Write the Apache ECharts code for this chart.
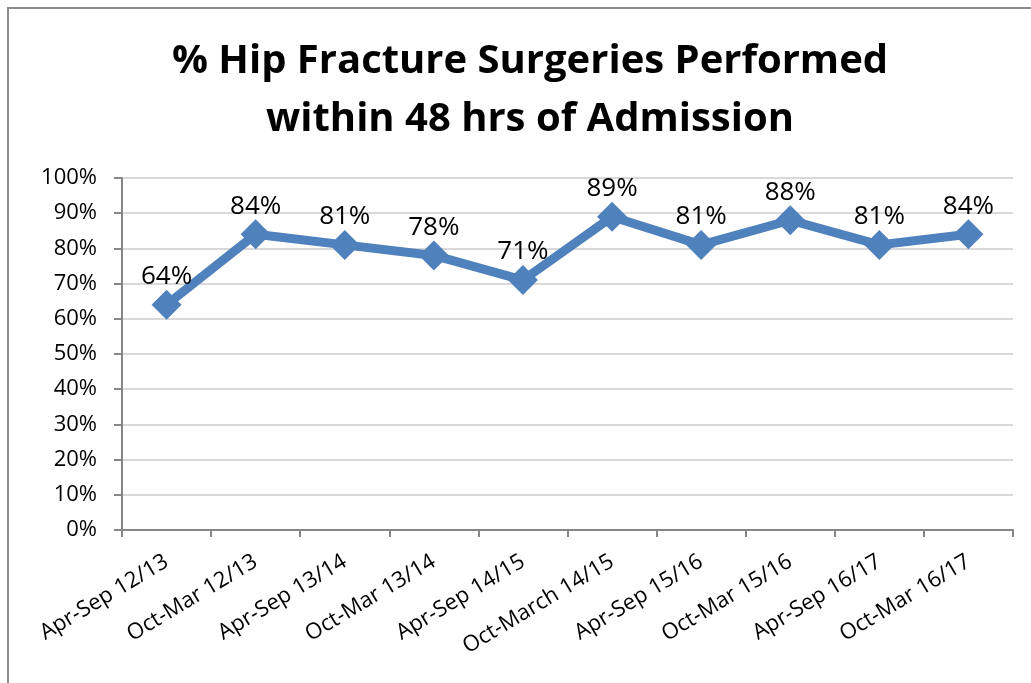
<html>
<head>
<meta charset="UTF-8">
<title>Hip fracture surgeries within 48 hrs</title>
<script src="https://cdn.jsdelivr.net/npm/echarts@6/dist/echarts.min.js"></script>
<style>
html,body{margin:0;padding:0;background:#fff;}
#frame{position:absolute;left:7px;top:7px;width:1030px;height:690px;border-left:2px solid #8c8c8c;border-top:2px solid #8c8c8c;}
#container{position:absolute;left:0;top:0;width:1031px;height:683px;}
</style>
</head>
<body>
<div id="frame"></div>
<div id="container"></div>
<script>
// periods and % of surgeries done within 48 hrs
var periods = ['Apr-Sep 12/13', 'Oct-Mar 12/13', 'Apr-Sep 13/14', 'Oct-Mar 13/14', 'Apr-Sep 14/15',
               'Oct-March 14/15', 'Apr-Sep 15/16', 'Oct-Mar 15/16', 'Apr-Sep 16/17', 'Oct-Mar 16/17'];
var pctWithin48 = [64, 84, 81, 78, 71, 89, 81, 88, 81, 84];

var font = 'Open Sans';
var myChart = echarts.init(document.getElementById('container'));

myChart.setOption({
  animation: false,
  title: {
    text: '% Hip Fracture Surgeries Performed\nwithin 48 hrs of Admission',
    left: 525, top: 28, textAlign: 'center',
    textStyle: { fontFamily: font, fontWeight: 'bold', fontSize: 40, lineHeight: 58, color: '#000' }
  },
  grid: { left: 122, right: 18, top: 178, bottom: 153 },
  xAxis: {
    type: 'category',
    data: periods,
    boundaryGap: true,
    axisLine: { lineStyle: { color: '#868686', width: 2 } },
    axisTick: { show: true, length: 7, lineStyle: { color: '#868686', width: 2 } },
    axisLabel: { rotate: 31, fontFamily: font, fontSize: 22, color: '#000', margin: 30, interval: 0 }
  },
  yAxis: {
    type: 'value',
    min: 0, max: 100, interval: 10,
    axisLine: { show: true, lineStyle: { color: '#868686', width: 2 } },
    axisTick: { show: true, length: 8, lineStyle: { color: '#868686', width: 2 } },
    splitLine: { lineStyle: { color: '#d9d9d9', width: 2 } },
    axisLabel: { fontFamily: font, fontSize: 22, color: '#000', margin: 25, formatter: '{value}%' }
  },
  series: [{
    type: 'line',
    data: pctWithin48,
    symbol: 'diamond',
    symbolSize: 30,
    lineStyle: { color: '#4f81bd', width: 9 },
    itemStyle: { color: '#4f81bd' },
    label: {
      show: true, position: 'top', distance: 0,
      fontFamily: font, fontSize: 26, color: '#000',
      formatter: '{c}%'
    }
  }]
});

window.onresize = function () { myChart.resize(); };
</script>
</body>
</html>
